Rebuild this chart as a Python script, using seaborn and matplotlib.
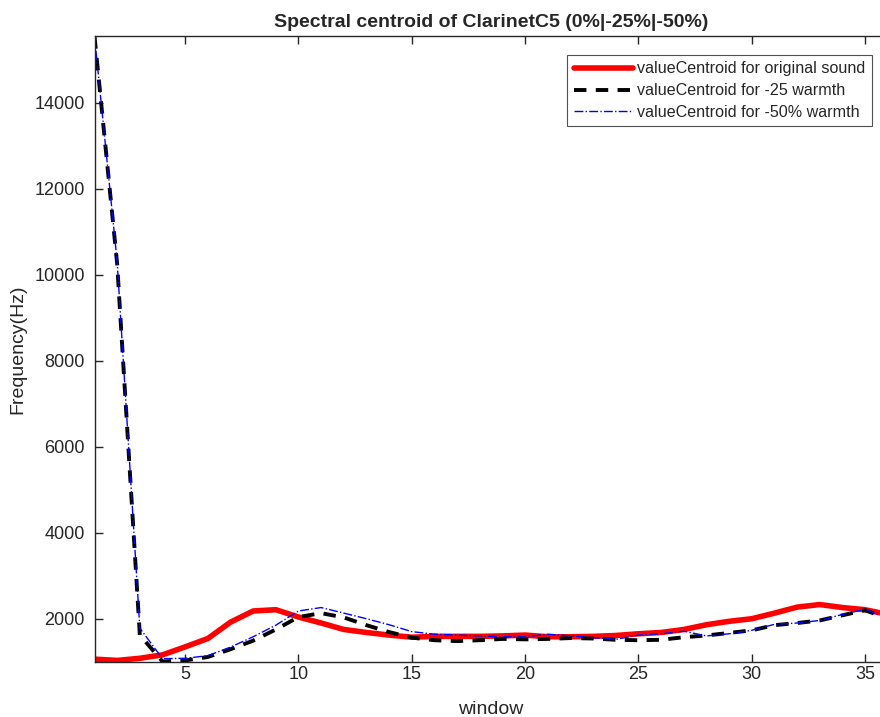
import matplotlib
matplotlib.use("Agg")

import matplotlib.pyplot as plt
import pandas as pd
import seaborn as sns

# window index 1..36
window = list(range(1, 37))

centroid_original = [
    1060, 1030, 1080, 1160, 1345, 1540, 1920, 2180, 2210, 2040,
    1900, 1750, 1680, 1620, 1570, 1590, 1590, 1590, 1600, 1620,
    1580, 1580, 1590, 1610, 1650, 1680, 1750, 1860, 1940, 2000,
    2130, 2270, 2330, 2260, 2210, 2100,
]
centroid_warm25 = [
    15549, 10250, 1620, 1005, 1030, 1110, 1290, 1490, 1750, 2040,
    2130, 2030, 1850, 1690, 1560, 1500, 1480, 1500, 1530, 1520,
    1530, 1550, 1540, 1510, 1500, 1510, 1570, 1610, 1670, 1730,
    1850, 1900, 1960, 2080, 2200, 2000,
]
centroid_warm50 = [
    15549, 10300, 1780, 1070, 1080, 1140, 1340, 1580, 1850, 2180,
    2260, 2130, 2000, 1860, 1700, 1640, 1620, 1600, 1580, 1580,
    1640, 1600, 1560, 1520, 1620, 1650, 1710, 1600, 1650, 1730,
    1870, 1900, 1960, 2100, 2220, 2000,
]

labels = [
    "valueCentroid for original sound",
    "valueCentroid for -25 warmth",
    "valueCentroid for -50% warmth",
]

sns.set_style("white")
plt.rcParams["font.family"] = ["Liberation Sans", "DejaVu Sans"]

AXIS_GREY = "#262626"

fig = plt.figure(figsize=(8.8, 7.17), dpi=100)
# right edge of the axes runs just past the figure, like the cropped original
ax = fig.add_axes([0.1074, 0.0774, 0.9014, 0.872])

df = pd.DataFrame({"window": window, "c0": centroid_original,
                   "c25": centroid_warm25, "c50": centroid_warm50})

sns.lineplot(data=df, x="window", y="c0", ax=ax, color="#ff0000",
             linewidth=4.0, label=labels[0])
sns.lineplot(data=df, x="window", y="c25", ax=ax, color="black",
             linewidth=2.8, linestyle=(0, (3.2, 2.4)), label=labels[1])
sns.lineplot(data=df, x="window", y="c50", ax=ax, color="#0000ff",
             linewidth=1.0, linestyle="-.", label=labels[2])

all_vals = centroid_original + centroid_warm25 + centroid_warm50
ax.set_xlim(1, 36)
ax.set_ylim(min(all_vals), max(all_vals))
ax.set_xticks(range(5, 36, 5))
ax.set_yticks(range(2000, 15000, 2000))

ax.tick_params(direction="in", length=6, width=1.0, colors=AXIS_GREY,
               labelsize=13, top=True, right=True, bottom=True, left=True,
               labelcolor=AXIS_GREY)
ax.tick_params(axis="x", pad=3)
ax.tick_params(axis="y", pad=7)
for sp in ax.spines.values():
    sp.set_color(AXIS_GREY)
    sp.set_linewidth(1.0)

ax.set_xlabel("window", fontsize=14, color=AXIS_GREY, labelpad=13)
ax.set_ylabel("Frequency(Hz)", fontsize=14, color=AXIS_GREY, labelpad=6)
ax.set_title("Spectral centroid of ClarinetC5 (0%|-25%|-50%)",
             fontsize=14, fontweight="bold",
             family=["Liberation Sans Narrow", "Liberation Sans"], pad=7)

leg = ax.legend(loc="upper right", bbox_to_anchor=(0.980, 0.970),
                fontsize=11.6, frameon=True, fancybox=False,
                handlelength=3.7, handletextpad=0.25, borderpad=0.4,
                labelspacing=0.42, borderaxespad=0.0)
leg.get_frame().set_edgecolor(AXIS_GREY)
leg.get_frame().set_linewidth(0.8)

fig.savefig("out.png", dpi=100)
plt.close(fig)
